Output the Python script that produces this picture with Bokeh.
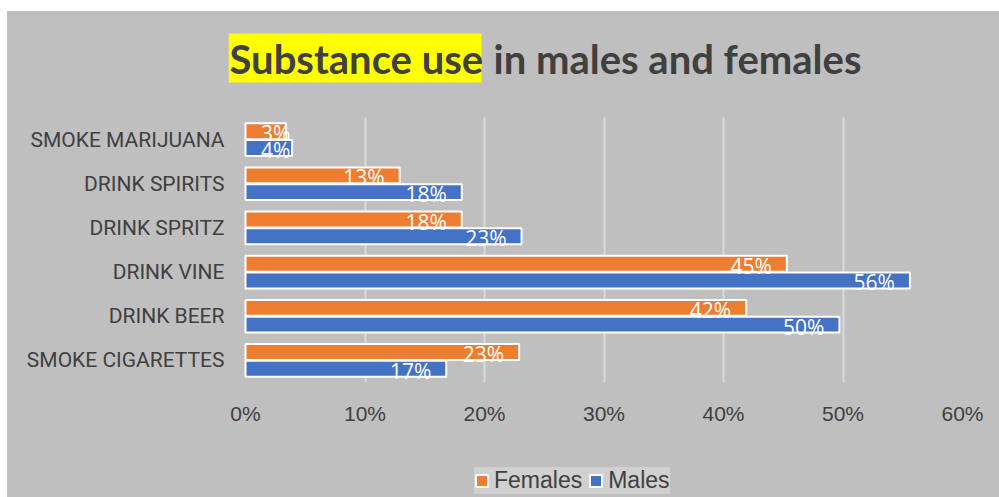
from bokeh.plotting import figure
from bokeh.models import (FactorRange, Range1d, ColumnDataSource, Legend,
                          LegendItem, PrintfTickFormatter, Spacer)
from bokeh.transform import dodge
from bokeh.layouts import column, row
from bokeh.core.properties import value
from bokeh.embed import file_html
from bokeh.resources import INLINE

# Share of respondents (%) reporting each behaviour, listed top to bottom
categories = ["SMOKE MARIJUANA", "DRINK SPIRITS", "DRINK SPRITZ",
              "DRINK VINE", "DRINK BEER", "SMOKE CIGARETTES"]
females = [3.4, 12.9, 18.1, 45.3, 41.9, 22.9]
males = [3.9, 18.1, 23.1, 55.6, 49.7, 16.8]
series = ["Females", "Males"]
x_ticks = [0, 10, 20, 30, 40, 50, 60]

ORANGE = "#ED7D31"
BLUE = "#4472C4"
BG = "#BFBFBF"
TXT = "#404040"

W = 992
TITLE_H, MAIN_H, LEG_H = 106, 323, 57
LEFT, RIGHT, BOTTOM = 221, 37, 58
OFF_X, OFF_Y = 7, 11  # white margin around the chart area

# the frame starts a little left of 0 % so that every strip shares one x scale
PX_PER_PCT = 717 / 60
X_MAX = 60
X_MIN = X_MAX - (W - LEFT - RIGHT) / PX_PER_PCT
ZERO_PX = OFF_X + LEFT + (0 - X_MIN) * PX_PER_PCT  # page x of 0 %


def px_x(page_px):
    return (page_px - ZERO_PX) / PX_PER_PCT


def strip(height):
    """Plain strip above/below the bars, y measured in pixels from its bottom."""
    f = figure(width=W, height=height, x_range=Range1d(X_MIN, X_MAX),
               y_range=Range1d(0, height), output_backend="svg", toolbar_location=None,
               min_border_left=LEFT, min_border_right=RIGHT,
               min_border_top=0, min_border_bottom=0,
               x_axis_location=None, y_axis_location=None)
    f.background_fill_color = None
    f.border_fill_color = BG
    f.outline_line_color = None
    f.grid.grid_line_color = None
    return f


# ---- title: "Substance use" highlighted, the rest plain
t = strip(TITLE_H)
t.quad(left=px_x(228), right=px_x(481), bottom=TITLE_H - 71, top=TITLE_H - 22,
       fill_color="#FFFF00", line_color=None)
title_kw = dict(text_font=value("Lato"), text_font_size="40px", text_font_style="bold",
                text_color=TXT, text_baseline="alphabetic", text_align="left",
                y_offset=-14)
t.text(x=[px_x(229)], y=[TITLE_H - 61], text=["Substance use"], **title_kw)
t.text(x=[px_x(493)], y=[TITLE_H - 61], text=["in males and females"], **title_kw)

# ---- bars
order = list(reversed(categories))  # bokeh lists factors bottom to top

src = ColumnDataSource(dict(
    cat=categories,
    f=females,
    m=males,
    f_lx=[max(v, 5.0) for v in females],
    m_lx=[max(v, 5.0) for v in males],
    f_txt=[f"{round(v)}%" for v in females],
    m_txt=[f"{round(v)}%" for v in males],
))

p = figure(width=W, height=MAIN_H, y_range=FactorRange(*order),
           x_range=Range1d(X_MIN, X_MAX),
           output_backend="svg", toolbar_location=None,
           min_border_left=LEFT, min_border_right=RIGHT,
           min_border_top=0, min_border_bottom=BOTTOM)
p.background_fill_color = None
p.border_fill_color = BG
p.outline_line_color = None

BAR_H = 0.36
DODGE = 0.19

p.hbar(y=dodge("cat", DODGE, range=p.y_range), right="f", left=0, height=BAR_H,
       source=src, fill_color=ORANGE, line_color="white", line_width=2)
p.hbar(y=dodge("cat", -DODGE, range=p.y_range), right="m", left=0, height=BAR_H,
       source=src, fill_color=BLUE, line_color="white", line_width=2)

lbl_kw = dict(source=src, text_align="right", text_baseline="alphabetic",
              x_offset=-15, y_offset=2, text_color="white",
              text_font=value("Open Sans"), text_font_size="21px")
p.text(x="f_lx", y=dodge("cat", DODGE, range=p.y_range), text="f_txt", **lbl_kw)
p.text(x="m_lx", y=dodge("cat", -DODGE, range=p.y_range), text="m_txt", **lbl_kw)

# grid
p.ygrid.grid_line_color = None
p.xgrid.ticker = x_ticks[1:]
p.xgrid.grid_line_color = "#D9D9D9"
p.xgrid.grid_line_width = 2

# x axis
p.xaxis.ticker = x_ticks
p.xaxis.formatter = PrintfTickFormatter(format="%d%%")
p.xaxis.axis_line_color = None
p.xaxis.major_tick_line_color = None
p.xaxis.minor_tick_line_color = None
p.xaxis.major_label_text_font = "Liberation Sans"
p.xaxis.major_label_text_font_size = "21px"
p.xaxis.major_label_text_color = TXT
p.xaxis.major_label_standoff = 13

# y axis
p.yaxis.axis_line_color = None
p.yaxis.major_tick_line_color = None
p.yaxis.major_tick_out = 0
p.yaxis.major_label_text_font = "Roboto"
p.yaxis.major_label_text_font_size = "21px"
p.yaxis.major_label_text_color = TXT
p.yaxis.major_label_standoff = 4

# ---- legend strip
lg = strip(LEG_H)
swatch_f = lg.hbar(y=[-1000], right=[0], height=1, fill_color=ORANGE,
                   line_color="white", line_width=2)
swatch_m = lg.hbar(y=[-1000], right=[0], height=1, fill_color=BLUE,
                   line_color="white", line_width=2)
legend = Legend(items=[LegendItem(label=series[0], renderers=[swatch_f]),
                       LegendItem(label=series[1], renderers=[swatch_m])],
                orientation="horizontal", location=(246, 3), margin=0,
                padding=10, spacing=6, label_standoff=5,
                glyph_width=15, glyph_height=15,
                label_text_font="Liberation Sans", label_text_font_size="23px",
                label_text_color=TXT, background_fill_color="#D0D0D0",
                background_fill_alpha=1, border_line_color=None)
lg.add_layout(legend)

chart = column(t, p, lg, styles={"background-color": BG})
page = column(Spacer(height=OFF_Y), row(Spacer(width=OFF_X), chart))

open("out.html", "w").write(file_html(page, INLINE))
